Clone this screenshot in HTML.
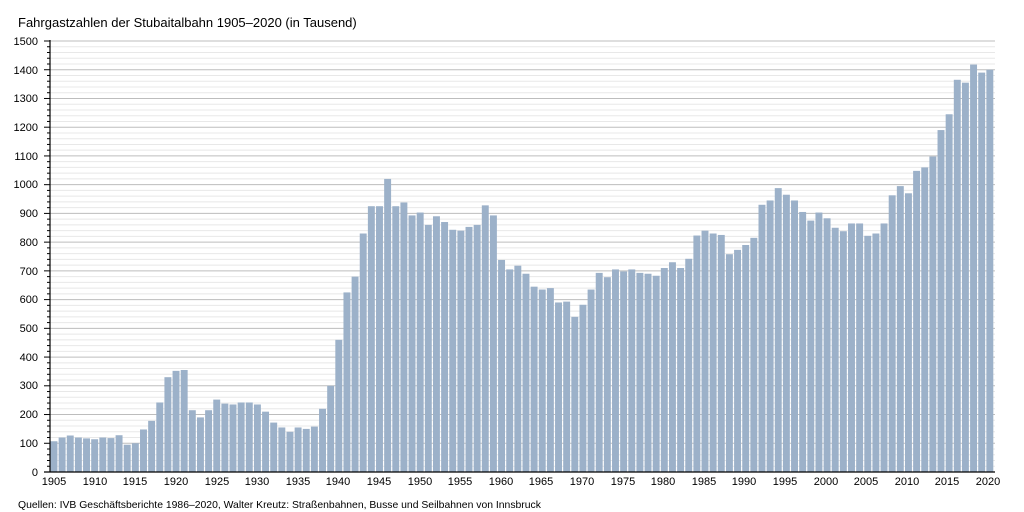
<!DOCTYPE html>
<html><head><meta charset="utf-8"><style>
html,body{margin:0;padding:0;background:#fff}
svg{display:block;font-family:"Liberation Sans",sans-serif}
</style></head><body>
<svg id="s" width="1024" height="512" xmlns="http://www.w3.org/2000/svg">
<text x="18" y="27" font-size="13" fill="#000">Fahrgastzahlen der Stubaitalbahn 1905–2020 (in Tausend)</text>
<g id="grid"></g>
<g id="bars"></g>
<g font-size="11" text-anchor="end" fill="#000">
<text x="38" y="476">0</text><text x="38" y="447">100</text><text x="38" y="418">200</text><text x="38" y="389">300</text><text x="38" y="361">400</text><text x="38" y="332">500</text><text x="38" y="303">600</text><text x="38" y="275">700</text><text x="38" y="246">800</text><text x="38" y="217">900</text><text x="38" y="188">1000</text><text x="38" y="160">1100</text><text x="38" y="131">1200</text><text x="38" y="102">1300</text><text x="38" y="74">1400</text><text x="38" y="45">1500</text>
</g>
<g font-size="11" text-anchor="middle" fill="#000" id="xl">
<text x="54" y="485">1905</text><text x="95" y="485">1910</text><text x="135" y="485">1915</text><text x="176" y="485">1920</text><text x="217" y="485">1925</text><text x="257" y="485">1930</text><text x="298" y="485">1935</text><text x="338" y="485">1940</text><text x="379" y="485">1945</text><text x="420" y="485">1950</text><text x="460" y="485">1955</text><text x="501" y="485">1960</text><text x="541" y="485">1965</text><text x="582" y="485">1970</text><text x="623" y="485">1975</text><text x="663" y="485">1980</text><text x="704" y="485">1985</text><text x="744" y="485">1990</text><text x="785" y="485">1995</text><text x="826" y="485">2000</text><text x="866" y="485">2005</text><text x="907" y="485">2010</text><text x="947" y="485">2015</text><text x="988" y="485">2020</text>
</g>
<text x="18" y="508" font-size="10.4" fill="#000">Quellen: IVB Geschäftsberichte 1986–2020, Walter Kreutz: Straßenbahnen, Busse und Seilbahnen von Innsbruck</text>
<g id="ax"></g>
</svg>
<script>
var d=[107,120,127,120,117,114,120,118,128,95,100,148,178,242,330,352,355,215,190,215,252,238,235,242,242,235,210,172,155,140,155,150,158,220,300,460,625,680,830,925,925,1020,925,938,893,903,860,890,870,843,840,853,860,928,893,738,705,718,690,645,635,640,590,593,540,582,635,693,678,705,698,705,693,690,683,710,730,710,742,823,840,830,825,758,773,790,815,930,945,988,965,945,905,875,903,883,850,838,865,865,822,830,865,963,995,970,1048,1060,1098,1190,1245,1365,1355,1418,1390,1400];
var NS="http://www.w3.org/2000/svg";
function el(p,t,a){var e=document.createElementNS(NS,t);for(var k in a)e.setAttribute(k,a[k]);p.appendChild(e);return e;}
var y0=472,k=431/1500,g=document.getElementById('grid'),b=document.getElementById('bars'),ax=document.getElementById('ax');
for(var v=20;v<=1500;v+=20){var y=y0-v*k;var maj=v%100==0;
el(g,'line',{x1:50,x2:995,y1:y,y2:y,stroke:maj?'#bdbdbd':'#e8e8e8','stroke-width':1});
el(ax,'line',{x1:maj?44:47,x2:50,y1:y,y2:y,stroke:'#000','stroke-width':1});}
var w=944/116;
for(var i=0;i<d.length;i++){var h=d[i]*k;el(b,'rect',{x:50.5+i*w,y:y0-h,width:w-1.2,height:h,fill:'#9cb1c9'});}
el(ax,'line',{x1:50,x2:50,y1:40,y2:y0,stroke:'#000','stroke-width':1.2});
el(ax,'line',{x1:44,x2:995,y1:y0,y2:y0,stroke:'#000','stroke-width':1.2});
</script>
</body></html>
